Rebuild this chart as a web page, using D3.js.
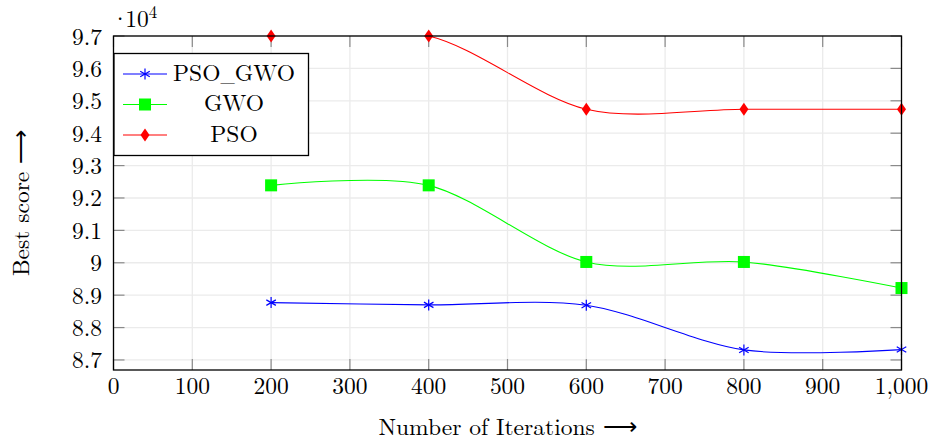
<!DOCTYPE html>
<html><head><meta charset="utf-8">
<script src="https://cdn.jsdelivr.net/npm/d3@7"></script>
<style>body{margin:0;background:#fff}svg{display:block}</style>
</head><body><svg id="c" width="931" height="441"></svg>
<script>
const iterations = [200, 400, 600, 800, 1000];
const psoGwo = [8.877, 8.870, 8.869, 8.731, 8.732];
const gwo = [9.239, 9.239, 9.0025, 9.0025, 8.922];
const pso = [9.7, 9.7, 9.474, 9.474, 9.474];
const xTicks = [0,100,200,300,400,500,600,700,800,900,1000];
const yTicks = [8.7,8.8,8.9,9.0,9.1,9.2,9.3,9.4,9.5,9.6,9.7];
const seriesNames = ["PSO_GWO","GWO","PSO"];
const seriesColors = ["#0000ff","#00ff00","#ff0000"];
const seriesMarkers = ["star","square","diamond"];

const FONT = '"Latin Modern Roman", "Liberation Serif", serif';
const FS = 23.5;
const svg = d3.select("#c");
const L=113.5,R=901.5,T=36,B=370;
const x = d3.scaleLinear().domain([0,1000]).range([L,R]);
const y = d3.scaleLinear().domain([8.669,9.7]).range([B,T]);

// grid
const g = svg.append("g");
g.selectAll(".gx").data(xTicks).join("line").attr("x1",d=>x(d)).attr("x2",d=>x(d)).attr("y1",T).attr("y2",B).attr("stroke","#ebebeb").attr("stroke-width",1.3);
g.selectAll(".gy").data(yTicks).join("line").attr("y1",d=>y(d)).attr("y2",d=>y(d)).attr("x1",L).attr("x2",R).attr("stroke","#ebebeb").attr("stroke-width",1.3);

// ticks (inward, all four sides)
const tk=11, tc="#8a8a8a";
g.selectAll(".tb").data(xTicks).join("line").attr("x1",d=>x(d)).attr("x2",d=>x(d)).attr("y1",B).attr("y2",B-tk).attr("stroke",tc).attr("stroke-width",1.2);
g.selectAll(".tt").data(xTicks).join("line").attr("x1",d=>x(d)).attr("x2",d=>x(d)).attr("y1",T).attr("y2",T+tk).attr("stroke",tc).attr("stroke-width",1.2);
g.selectAll(".tl").data(yTicks).join("line").attr("y1",d=>y(d)).attr("y2",d=>y(d)).attr("x1",L).attr("x2",L+tk).attr("stroke",tc).attr("stroke-width",1.2);
g.selectAll(".tr").data(yTicks).join("line").attr("y1",d=>y(d)).attr("y2",d=>y(d)).attr("x1",R).attr("x2",R-tk).attr("stroke",tc).attr("stroke-width",1.2);

function txt(sel){ return sel.append("text").style("font-family",FONT).attr("fill","#000").attr("font-size",FS); }

// tick labels
const fmtX = d3.format(",");
xTicks.forEach(d=>txt(svg).attr("x",x(d)).attr("y",B+23.5).attr("text-anchor","middle").text(fmtX(d)));
yTicks.forEach(d=>txt(svg).attr("x",L-11.5).attr("y",y(d)+8.5).attr("text-anchor","end").text(String(+d.toFixed(1))));
// multiplier
const m = txt(svg).attr("x",111).attr("y",27);
m.append("tspan").text("·");
m.append("tspan").attr("dx",-4).text("10");
m.append("tspan").attr("dy",-9).attr("font-size",17).text("4");

// clip
svg.append("clipPath").attr("id","clip").append("rect").attr("x",L).attr("y",T).attr("width",R-L).attr("height",B-T);

const allSeries=[psoGwo,gwo,pso];
const line = d3.line().x(d=>x(d[0])).y(d=>y(d[1])).curve(d3.curveCardinal.tension(0.1));

function marker(sel, type, color){
  if(type==="star"){
    const r=5.5;
    for(let a=0;a<3;a++){
      const ang=Math.PI/2+a*Math.PI/3;
      sel.append("line").attr("x1",-r*Math.cos(ang)).attr("y1",-r*Math.sin(ang)).attr("x2",r*Math.cos(ang)).attr("y2",r*Math.sin(ang)).attr("stroke",color).attr("stroke-width",1.2);
    }
  } else if(type==="square"){
    sel.append("rect").attr("x",-6).attr("y",-6).attr("width",12).attr("height",12).attr("fill",color);
  } else {
    sel.append("path").attr("d","M0,-6.5L4.5,0L0,6.5L-4.5,0Z").attr("fill",color);
  }
}

allSeries.forEach((vals,i)=>{
  const pts = iterations.map((it,j)=>[it,vals[j]]);
  svg.append("path").attr("d",line(pts)).attr("fill","none").attr("stroke",seriesColors[i]).attr("stroke-width",1.1).attr("clip-path","url(#clip)");
  pts.forEach(p=>{
    const mg=svg.append("g").attr("transform",`translate(${x(p[0])},${y(p[1])})`);
    marker(mg,seriesMarkers[i],seriesColors[i]);
  });
});

// axis box
svg.append("rect").attr("x",L).attr("y",T).attr("width",R-L).attr("height",B-T).attr("fill","none").attr("stroke","#000").attr("stroke-width",1.3);

// legend
const lg = svg.append("g");
lg.append("rect").attr("x",114).attr("y",53.5).attr("width",194.5).attr("height",102).attr("fill","#fff").attr("stroke","#000").attr("stroke-width",1.3);
seriesNames.forEach((n,i)=>{
  const yy = 74 + i*30.5;
  lg.append("line").attr("x1",123).attr("x2",167).attr("y1",yy).attr("y2",yy).attr("stroke",seriesColors[i]).attr("stroke-width",1.1);
  const mg=lg.append("g").attr("transform",`translate(145,${yy})`);
  marker(mg,seriesMarkers[i],seriesColors[i]);
  const t = txt(lg).attr("x",234).attr("y",yy+6.5).attr("text-anchor","middle");
  const parts = n.split("_");
  parts.forEach((p,k)=>{
    if(k>0) t.append("tspan").attr("font-size",19).text("_");
    t.append("tspan").text(p);
  });
});

// axis labels
txt(svg).attr("x",(L+R)/2).attr("y",434.5).attr("text-anchor","middle").text("Number of Iterations ⟶");
txt(svg).attr("transform",`translate(29,${(T+B)/2}) rotate(-90)`).attr("text-anchor","middle").text("Best score ⟶");
</script></body></html>
